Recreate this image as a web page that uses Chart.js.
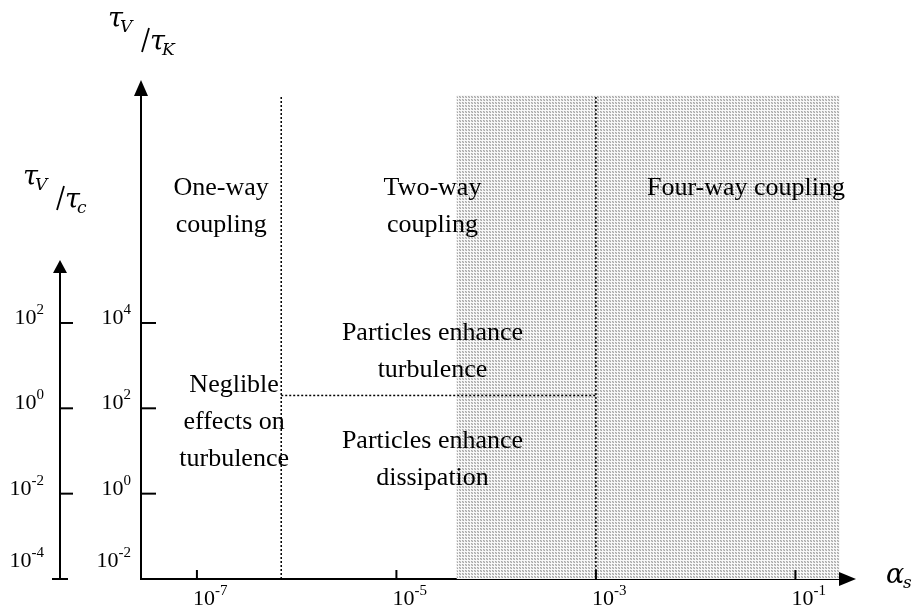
<!DOCTYPE html>
<html><head><meta charset="utf-8">
<script src="https://cdn.jsdelivr.net/npm/chart.js@4.4.1/dist/chart.umd.min.js"></script>
<style>html,body{margin:0;padding:0;background:#fff}#wrap{width:916px;height:610px}</style>
</head><body><div id="wrap"><canvas id="c" width="916" height="610"></canvas></div>
<script>
// ---- values ----
const alphaTicks = [1e-7, 1e-5, 1e-3, 1e-1];   // α_s axis tick values
const tauKTicks  = [1e-2, 1e0, 1e2, 1e4];      // τV/τK axis tick values
const tauCTicks  = [1e-4, 1e-2, 1e0, 1e2];     // τV/τc axis tick values
const alphaRange = [2.75e-8, 0.28];            // α_s axis extent
const tauKRange  = [1e-2, 2.2e9];              // τV/τK axis extent
const tauCRange  = [1e-4, 2.2e7];              // τV/τc axis extent
const tauCAxisTop = [3e3];                     // where the τV/τc arrow ends
const regimeBounds = [7e-7, 1e-3];             // one-way | two-way | four-way
const shadeBounds  = [4e-5, 0.28];             // shaded α_s band
const turbulenceSplit = [200];                 // τV/τK: enhance turbulence | enhance dissipation

const SERIF = '"Liberation Serif", "Times New Roman", serif';
const MATH = '"DejaVu Serif", serif';

// fine dotted grey pattern
const pc = document.createElement('canvas'); pc.width = 3; pc.height = 3;
const pctx = pc.getContext('2d');
pctx.fillStyle = '#f8f8f8'; pctx.fillRect(0, 0, 3, 3);
pctx.fillStyle = '#a8a8a8'; pctx.fillRect(0, 0, 1, 1); pctx.fillRect(1, 1, 1, 1);
pctx.fillStyle = '#d0d0d0'; pctx.fillRect(1, 0, 1, 1); pctx.fillRect(0, 1, 1, 1);
const shadePattern = pctx.createPattern(pc, 'repeat');

const line = (ctx, x1, y1, x2, y2) => { ctx.beginPath(); ctx.moveTo(x1, y1); ctx.lineTo(x2, y2); ctx.stroke(); };

function powLabel(ctx, v, x, yBase, align) {
  const e = String(Math.round(Math.log10(v)));
  ctx.textAlign = 'left'; ctx.textBaseline = 'alphabetic';
  ctx.font = '22px ' + SERIF; const wb = ctx.measureText('10').width;
  ctx.font = '15px ' + SERIF; const we = ctx.measureText(e).width;
  const x0 = align === 'right' ? x - wb - we : x;
  ctx.font = '22px ' + SERIF; ctx.fillText('10', x0, yBase);
  ctx.font = '15px ' + SERIF; ctx.fillText(e, x0 + wb, yBase - 10);
}

function skewFrac(ctx, x, y, s1, s2) {
  ctx.textAlign = 'left'; ctx.textBaseline = 'alphabetic';
  ctx.font = 'italic 27px ' + MATH; const wt = ctx.measureText('\u03C4').width;
  ctx.fillText('\u03C4', x, y);
  ctx.font = 'italic 17px ' + MATH; ctx.fillText(s1, x + wt - 3, y + 5);
  ctx.lineWidth = 1.8; line(ctx, x + 34, y + 25, x + 41, y + 1);
  ctx.font = 'italic 27px ' + MATH; ctx.fillText('\u03C4', x + 42, y + 23);
  ctx.font = 'italic 17px ' + MATH; ctx.fillText(s2, x + 42 + wt - 3, y + 28);
}

const overlay = {
  id: 'overlay',
  afterDraw(chart) {
    const { ctx, chartArea: ca, scales } = chart;
    const xs = scales.x, ys = scales.y, y2 = scales.y2;
    const y0 = xs.top, xa = ys.right, x2 = y2.right;
    ctx.save();
    ctx.fillStyle = '#000'; ctx.strokeStyle = '#000'; ctx.lineWidth = 2;
    // arrow heads
    ctx.beginPath(); ctx.moveTo(ca.right - 1, y0 - 7); ctx.lineTo(ca.right + 16, y0); ctx.lineTo(ca.right - 1, y0 + 7); ctx.closePath(); ctx.fill();
    ctx.beginPath(); ctx.moveTo(xa - 7, ca.top + 1); ctx.lineTo(xa, ca.top - 15); ctx.lineTo(xa + 7, ca.top + 1); ctx.closePath(); ctx.fill();
    // secondary axis line + arrow
    const pb = y2.getPixelForValue(tauCRange[0]), pt = y2.getPixelForValue(tauCAxisTop[0]);
    line(ctx, x2, pb, x2, pt + 12);
    ctx.beginPath(); ctx.moveTo(x2 - 7, pt + 13); ctx.lineTo(x2, pt); ctx.lineTo(x2 + 7, pt + 13); ctx.closePath(); ctx.fill();
    // inward tick marks and labels, from each scale's own ticks
    xs.ticks.forEach((t, i) => {
      const p = xs.getPixelForTick(i);
      line(ctx, p, y0, p, y0 - 9);
      powLabel(ctx, t.value, p - 4, y0 + 26, 'left');
    });
    ys.ticks.forEach((t, i) => {
      const p = ys.getPixelForTick(i);
      const bottom = t.value <= tauKRange[0] * 1.0001;
      if (!bottom) line(ctx, xa, p, xa + 15, p);
      powLabel(ctx, t.value, xa - 10, bottom ? p - 12 : p + 1, 'right');
    });
    y2.ticks.forEach((t, i) => {
      const p = y2.getPixelForTick(i);
      const bottom = t.value <= tauCRange[0] * 1.0001;
      if (bottom) line(ctx, x2 - 8, p, x2 + 8, p); else line(ctx, x2, p, x2 + 13, p);
      powLabel(ctx, t.value, x2 - 16, bottom ? p - 12 : p + 1, 'right');
    });
    // region texts
    ctx.font = '26px ' + SERIF; ctx.textAlign = 'center'; ctx.textBaseline = 'alphabetic';
    const T = (s, xv, yv, dy) => ctx.fillText(s, xs.getPixelForValue(xv), ys.getPixelForValue(yv) + dy);
    T('One-way', 1.75e-7, 1e7, 0); T('coupling', 1.75e-7, 1e7, 37);
    T('Two-way', 2.3e-5, 1e7, 0); T('coupling', 2.3e-5, 1e7, 37);
    T('Four-way coupling', 3.2e-2, 1e7, 0);
    T('Particles enhance', 2.3e-5, 4e3, 0); T('turbulence', 2.3e-5, 4e3, 37);
    T('Neglible', 2.36e-7, 240, 0); T('effects on', 2.36e-7, 240, 37); T('turbulence', 2.36e-7, 240, 74);
    T('Particles enhance', 2.3e-5, 12, 0); T('dissipation', 2.3e-5, 12, 37);
    // axis titles
    skewFrac(ctx, xa - 33, ca.top - 68, 'V', 'K');
    skewFrac(ctx, x2 - 37, ca.top + 90, 'V', 'c');
    ctx.textAlign = 'left';
    ctx.font = 'italic 27px ' + MATH; ctx.fillText('\u03B1', ca.right + 46, y0 + 4);
    ctx.font = 'italic 17px ' + MATH; ctx.fillText('s', ca.right + 63, y0 + 9);
    ctx.restore();
  }
};

const noPad = s => { s.paddingTop = 0; s.paddingBottom = 0; s.paddingLeft = 0; s.paddingRight = 0; };

new Chart(document.getElementById('c'), {
  type: 'scatter',
  data: {
    datasets: [
      { data: [{ x: shadeBounds[0], y: tauKRange[1] }, { x: shadeBounds[1], y: tauKRange[1] }],
        showLine: true, fill: 'start', backgroundColor: shadePattern, borderWidth: 0, pointRadius: 0, order: 10 },
      { data: [{ x: regimeBounds[0], y: tauKRange[0] }, { x: regimeBounds[0], y: tauKRange[1] }],
        showLine: true, borderColor: '#000', borderWidth: 1.5, borderDash: [2, 2], pointRadius: 0, order: 1 },
      { data: [{ x: regimeBounds[1], y: tauKRange[0] }, { x: regimeBounds[1], y: tauKRange[1] }],
        showLine: true, borderColor: '#000', borderWidth: 1.5, borderDash: [2, 2], pointRadius: 0, order: 1 },
      { data: [{ x: regimeBounds[0], y: turbulenceSplit[0] }, { x: regimeBounds[1], y: turbulenceSplit[0] }],
        showLine: true, borderColor: '#000', borderWidth: 1.5, borderDash: [2, 2], pointRadius: 0, order: 1 }
    ]
  },
  options: {
    responsive: false, animation: false, events: [],
    layout: { autoPadding: false, padding: { top: 95, right: 76, left: 0, bottom: 0 } },
    plugins: { legend: { display: false }, tooltip: { enabled: false } },
    scales: {
      x: {
        type: 'logarithmic', position: 'bottom', min: alphaRange[0], max: alphaRange[1],
        afterBuildTicks: s => { s.ticks = alphaTicks.map(v => ({ value: v })); },
        afterFit: s => { s.height = 31; noPad(s); },
        grid: { display: false, drawTicks: false },
        border: { display: true, color: '#000', width: 2 },
        ticks: { display: false }
      },
      y: {
        type: 'logarithmic', position: 'left', weight: 0, min: tauKRange[0], max: tauKRange[1],
        afterBuildTicks: s => { s.ticks = tauKTicks.map(v => ({ value: v })); },
        afterFit: s => { s.width = 81; noPad(s); },
        grid: { display: false, drawTicks: false },
        border: { display: true, color: '#000', width: 2 },
        ticks: { display: false }
      },
      y2: {
        type: 'logarithmic', position: 'left', weight: 1, min: tauCRange[0], max: tauCRange[1],
        afterBuildTicks: s => { s.ticks = tauCTicks.map(v => ({ value: v })); },
        afterFit: s => { s.width = 60; noPad(s); },
        grid: { display: false, drawTicks: false },
        border: { display: false },
        ticks: { display: false }
      }
    }
  },
  plugins: [overlay]
});
</script></body></html>
